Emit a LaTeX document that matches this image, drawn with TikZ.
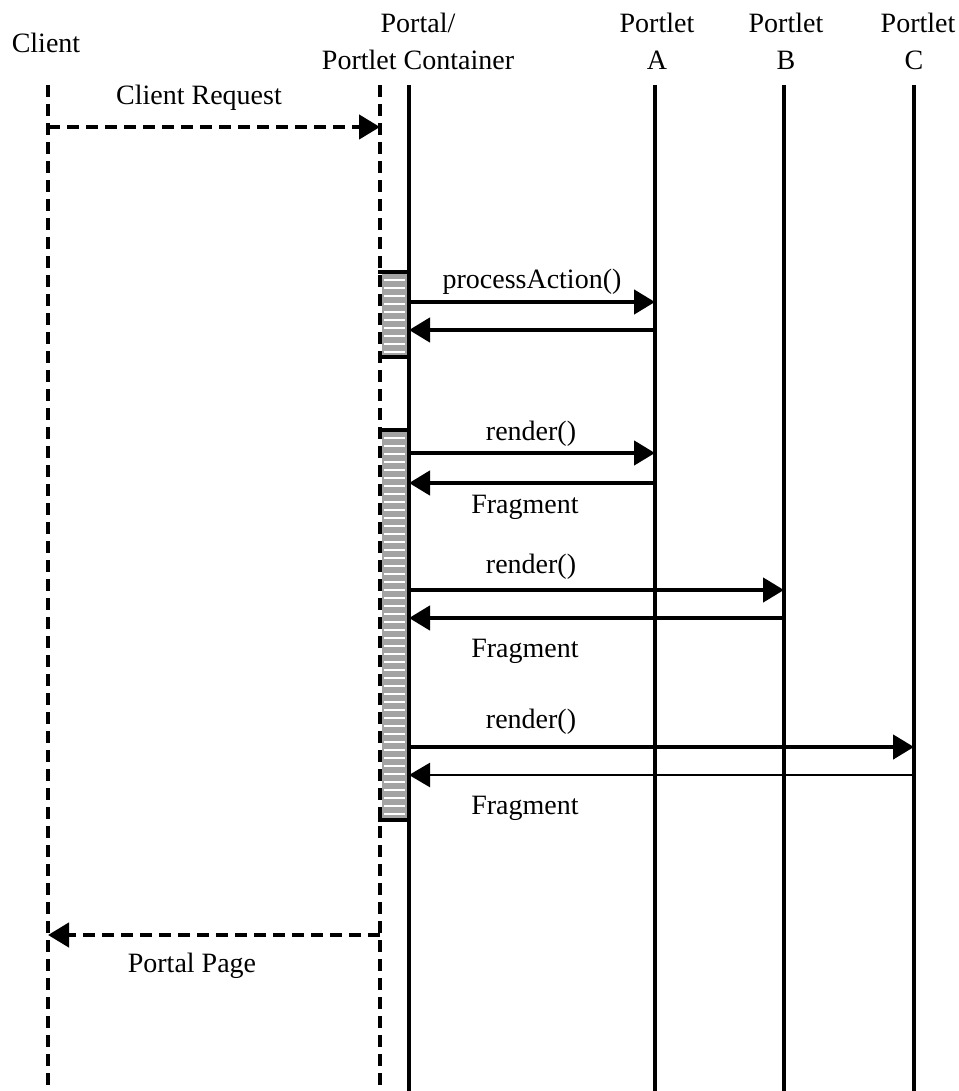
\documentclass[tikz,border=0pt]{standalone}
\usepackage{fontspec}
\setmainfont{Liberation Serif}
\usetikzlibrary{arrows.meta}
\begin{document}
\begin{tikzpicture}[x=1pt,y=-1pt,
  lbl/.style={inner sep=0pt, anchor=base, font=\fontsize{28}{30}\selectfont},
  life/.style={line width=4.5pt},
  dlife/.style={line width=4.5pt, dash pattern=on 12pt off 7pt},
  tip/.style={-{Triangle[length=21pt,width=24pt]}},
  msg/.style={line width=4.5pt, tip},
  thinmsg/.style={line width=2.5pt, tip},
  dmsg/.style={line width=4.5pt, dash pattern=on 12pt off 7pt, tip},
  actfill/.style={fill=black!36},
  hatch/.style={draw=white, line width=1.2pt},
  actedge/.style={line width=4.5pt}
]
\useasboundingbox (0,0) rectangle (958,1091);

% lifeline coordinates
\coordinate (cT) at (48,85);   \coordinate (cB) at (48,1091);
\coordinate (pdT) at (380,85); \coordinate (pdB) at (380,1091);
\coordinate (pT) at (409,85);  \coordinate (pB) at (409,1091);
\coordinate (aT) at (655,85);  \coordinate (aB) at (655,1091);
\coordinate (bT) at (784,85);  \coordinate (bB) at (784,1091);
\coordinate (xT) at (914,85);  \coordinate (xB) at (914,1091);

% header labels
\node[lbl] (lc) at (46,53) {Client};
\node[lbl] (lp1) at (418,33) {Portal/};
\node[lbl] (lp2) at (418,70) {Portlet Container};
\node[lbl] (la1) at (657,33) {Portlet};
\node[lbl] (la2) at (657,70) {A};
\node[lbl] (lb1) at (786,33) {Portlet};
\node[lbl] (lb2) at (786,70) {B};
\node[lbl] (lx1) at (918,33) {Portlet};
\node[lbl] (lx2) at (914,70) {C};

% activation boxes
\fill[actfill] (382,272) rectangle (407,357);
\foreach \y in {280,288,...,352} \draw[hatch] (384,\y) -- (405,\y);
\fill[actfill] (382,430) rectangle (407,820);
\foreach \y in {438,446,...,816} \draw[hatch] (384,\y) -- (405,\y);
\draw[actedge] (378,272) -- (411,272) (378,357) -- (411,357);
\draw[actedge] (378,430) -- (411,430) (378,820) -- (411,820);

% lifelines
\draw[dlife] (cT) -- (cB);
\draw[dlife] (pdT) -- (pdB);
\draw[life] (pT) -- (pB);
\draw[life] (aT) -- (aB);
\draw[life] (bT) -- (bB);
\draw[life] (xT) -- (xB);

% message end points
\coordinate (c1) at (48,127);  \coordinate (pd1) at (380,127);
\coordinate (p2) at (409,302); \coordinate (a2) at (655,302);
\coordinate (p3) at (409,330); \coordinate (a3) at (655,330);
\coordinate (p4) at (409,453); \coordinate (a4) at (655,453);
\coordinate (p5) at (409,483); \coordinate (a5) at (655,483);
\coordinate (p6) at (409,590); \coordinate (b6) at (784,590);
\coordinate (p7) at (409,618); \coordinate (b7) at (784,618);
\coordinate (p8) at (409,747); \coordinate (x8) at (914,747);
\coordinate (p9) at (409,775); \coordinate (x9) at (914,775);
\coordinate (pd10) at (380,935); \coordinate (c10) at (48,935);

% messages
\draw[dmsg] (c1) -- (pd1);
\node[lbl] (t1) at (199,105) {Client Request};
\draw[msg] (p2) -- (a2);
\node[lbl] (t2) at (532,288) {processAction()};
\draw[msg] (a3) -- (p3);
\draw[msg] (p4) -- (a4);
\node[lbl] (t4) at (531,440) {render()};
\draw[msg] (a5) -- (p5);
\node[lbl] (t5) at (525,513) {Fragment};
\draw[msg] (p6) -- (b6);
\node[lbl] (t6) at (531,573) {render()};
\draw[msg] (b7) -- (p7);
\node[lbl] (t7) at (525,657) {Fragment};
\draw[msg] (p8) -- (x8);
\node[lbl] (t8) at (531,728) {render()};
\draw[thinmsg] (x9) -- (p9);
\node[lbl] (t9) at (525,814) {Fragment};
\draw[dmsg] (pd10) -- (c10);
\node[lbl] (t10) at (192,972) {Portal Page};
\end{tikzpicture}
\end{document}
